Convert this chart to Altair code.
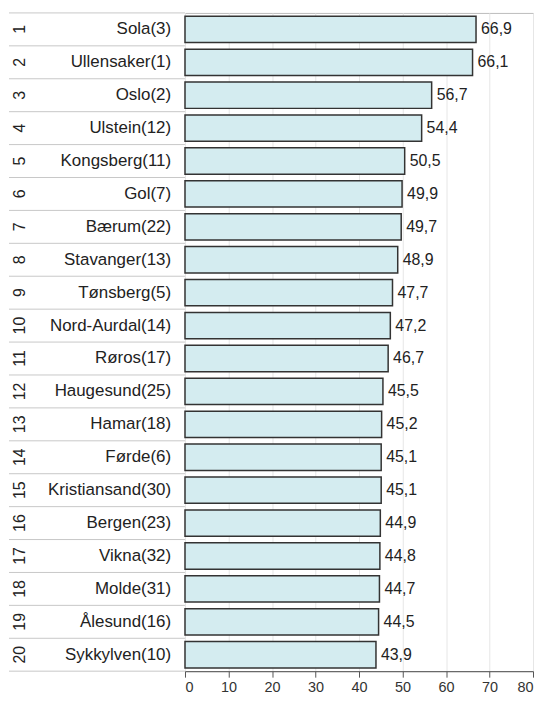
import altair as alt
import pandas as pd

ranks = list(range(1, 21))
names = ["Sola(3)", "Ullensaker(1)", "Oslo(2)", "Ulstein(12)", "Kongsberg(11)",
         "Gol(7)", "Bærum(22)", "Stavanger(13)", "Tønsberg(5)", "Nord-Aurdal(14)",
         "Røros(17)", "Haugesund(25)", "Hamar(18)", "Førde(6)", "Kristiansand(30)",
         "Bergen(23)", "Vikna(32)", "Molde(31)", "Ålesund(16)", "Sykkylven(10)"]
values = [66.9, 66.1, 56.7, 54.4, 50.5, 49.9, 49.7, 48.9, 47.7, 47.2,
          46.7, 45.5, 45.2, 45.1, 45.1, 44.9, 44.8, 44.7, 44.5, 43.9]
x_ticks = [0, 10, 20, 30, 40, 50, 60, 70, 80]

df = pd.DataFrame({"rank": ranks, "name": names, "value": values})

W, H = 350, 662
FONT = "Liberation Sans"

yscale = alt.Scale(paddingInner=0.2, paddingOuter=0.1)
y = alt.Y("name:N", sort=names, axis=None, scale=yscale)
x = alt.X("value:Q",
          scale=alt.Scale(domain=[0, 80], nice=False, zero=True),
          axis=alt.Axis(values=x_ticks, grid=True, gridColor="#e6e6e6",
                        domainColor="#555", tickColor="#555", tickSize=6,
                        labelFontSize=14.5, labelColor="#333", labelPadding=3,
                        labelFont=FONT, title=None))

base = alt.Chart(df).transform_calculate(
    label="replace(format(datum.value, '.1f'), '.', ',')"
)

bars = base.mark_bar(fill="#d4ecf0", stroke="#333", strokeWidth=1.5).encode(x=x, y=y)

vals = base.mark_text(align="left", dx=5, fontSize=16, font=FONT, color="#222").encode(
    x="value:Q", y=y, text="label:N")

name_txt = base.mark_text(align="right", fontSize=17, font=FONT, color="#222").encode(
    x=alt.value(-14), y=y, text="name:N")

rank_txt = base.mark_text(angle=270, fontSize=16, font=FONT, color="#222").encode(
    x=alt.value(-166), y=y, text="rank:N")

seps = base.mark_rule(color="#c8c8c8", strokeWidth=1, yOffset=-3.3).encode(
    x=alt.value(-177), x2=alt.value(0),
    y=alt.Y("name:N", sort=names, axis=None, scale=yscale, bandPosition=0))

bottom = base.transform_filter("datum.rank == 1").mark_rule(color="#c8c8c8", strokeWidth=1).encode(
    x=alt.value(-177), x2=alt.value(0), y=alt.value(H))

chart = alt.layer(seps, bottom, bars, vals, name_txt, rank_txt).properties(
    width=W, height=H,
    padding={"left": 0, "top": 2, "right": 2, "bottom": 0},
).configure_view(stroke="#bbb", strokeWidth=1)

chart.save("out.html", embed_options={"renderer": "svg", "actions": False})
